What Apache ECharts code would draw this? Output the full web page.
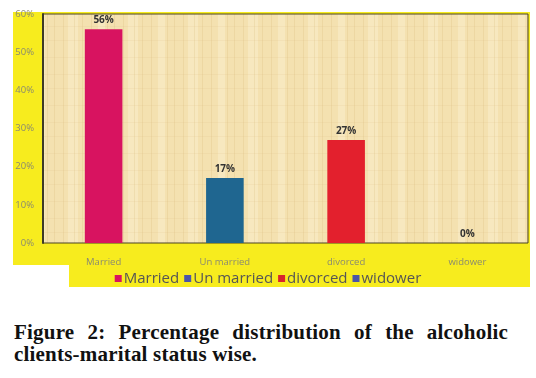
<!DOCTYPE html>
<html>
<head>
<meta charset="utf-8">
<script src="https://cdn.jsdelivr.net/npm/echarts@6/dist/echarts.min.js"></script>
<style>
  body { margin: 0; background: #fff; }
  #chart { position: absolute; left: 0; top: 0; width: 536px; height: 300px; }
  .cap {
    position: absolute; left: 14px; width: 494px;
    font-family: "Liberation Serif", serif; font-weight: bold; font-size: 21px;
    letter-spacing: 0.2px; line-height: 22px; color: #111; white-space: nowrap;
  }
  #cap1 { top: 321px; text-align: justify; text-align-last: justify; }
  #cap2 { top: 343px; }
</style>
</head>
<body>
<div id="chart"></div>
<div class="cap" id="cap1">Figure 2: Percentage distribution of the alcoholic</div>
<div class="cap" id="cap2">clients-marital status wise.</div>
<script>
const categories = ['Married', 'Un married', 'divorced', 'widower'];
const values = [56, 17, 27, 0];
const barColors = ['#d81360', '#1f6690', '#e3202d', '#1f6690'];
const legendColors = ['#d81360', '#4b55a8', '#d8262c', '#4b55a8'];
const yTicks = [0, 10, 20, 30, 40, 50, 60];

// faint papyrus weave, drawn once into a small tile
function papyrus() {
  const c = document.createElement('canvas');
  c.width = 60; c.height = 48;
  const g = c.getContext('2d');
  g.fillStyle = '#f4e1b0';
  g.fillRect(0, 0, 60, 48);
  g.fillStyle = 'rgba(250,240,205,0.5)';
  g.fillRect(8, 0, 10, 48);
  g.fillRect(38, 0, 7, 48);
  g.strokeStyle = 'rgba(205,170,100,0.18)';
  [3, 14, 22, 31, 47, 54].forEach(x => { g.beginPath(); g.moveTo(x + 0.5, 0); g.lineTo(x + 0.5, 48); g.stroke(); });
  g.strokeStyle = 'rgba(215,185,120,0.12)';
  [9, 26, 40].forEach(y => { g.beginPath(); g.moveTo(0, y + 0.5); g.lineTo(60, y + 0.5); g.stroke(); });
  return c;
}

const chart = echarts.init(document.getElementById('chart'));

const series = categories.map((name, i) => ({
  name: name,
  type: 'bar',
  stack: 'all',
  barWidth: '31%',
  data: categories.map((c, j) => (j === i ? values[i] : null)),
  itemStyle: { color: barColors[i] },
  label: {
    show: true, position: 'top', formatter: '{c}%', distance: 4,
    color: '#333', fontSize: 10, fontWeight: 'bold', fontFamily: 'Open Sans'
  }
}));

chart.setOption({
  animation: false,
  graphic: [
    { type: 'rect', z: -10, shape: { x: 13, y: 12, width: 517, height: 253 }, style: { fill: '#f7ec1e' } },
    { type: 'rect', z: -10, shape: { x: 69, y: 265, width: 461, height: 22 }, style: { fill: '#f7ec1e' } }
  ],
  grid: {
    left: 43, right: 8, top: 14, bottom: 57,
    show: true,
    backgroundColor: { image: papyrus(), repeat: 'repeat' },
    borderColor: '#4a4226', borderWidth: 1
  },
  legend: {
    data: categories.map((n, i) => ({ name: n, itemStyle: { color: legendColors[i] } })),
    top: 266, left: 'center',
    itemWidth: 7, itemHeight: 7, itemGap: 5,
    icon: 'rect',
    textStyle: { fontSize: 15, color: '#555', fontFamily: 'Open Sans', padding: [0, 0, 0, -3] }
  },
  xAxis: {
    type: 'category',
    data: categories,
    axisLine: { show: false },
    axisTick: { show: false },
    axisLabel: { color: '#8a8a70', fontSize: 9.5, margin: 14, fontFamily: 'Open Sans' }
  },
  yAxis: {
    type: 'value',
    min: yTicks[0], max: yTicks[yTicks.length - 1], interval: 10,
    axisLine: { show: true, lineStyle: { color: '#3e3a26', width: 2 } },
    axisTick: { show: false },
    splitLine: { show: false },
    axisLabel: { formatter: '{value}%', color: '#8a8a70', fontSize: 9.5, margin: 9, fontFamily: 'Open Sans' }
  },
  series: series
});
</script>
</body>
</html>
